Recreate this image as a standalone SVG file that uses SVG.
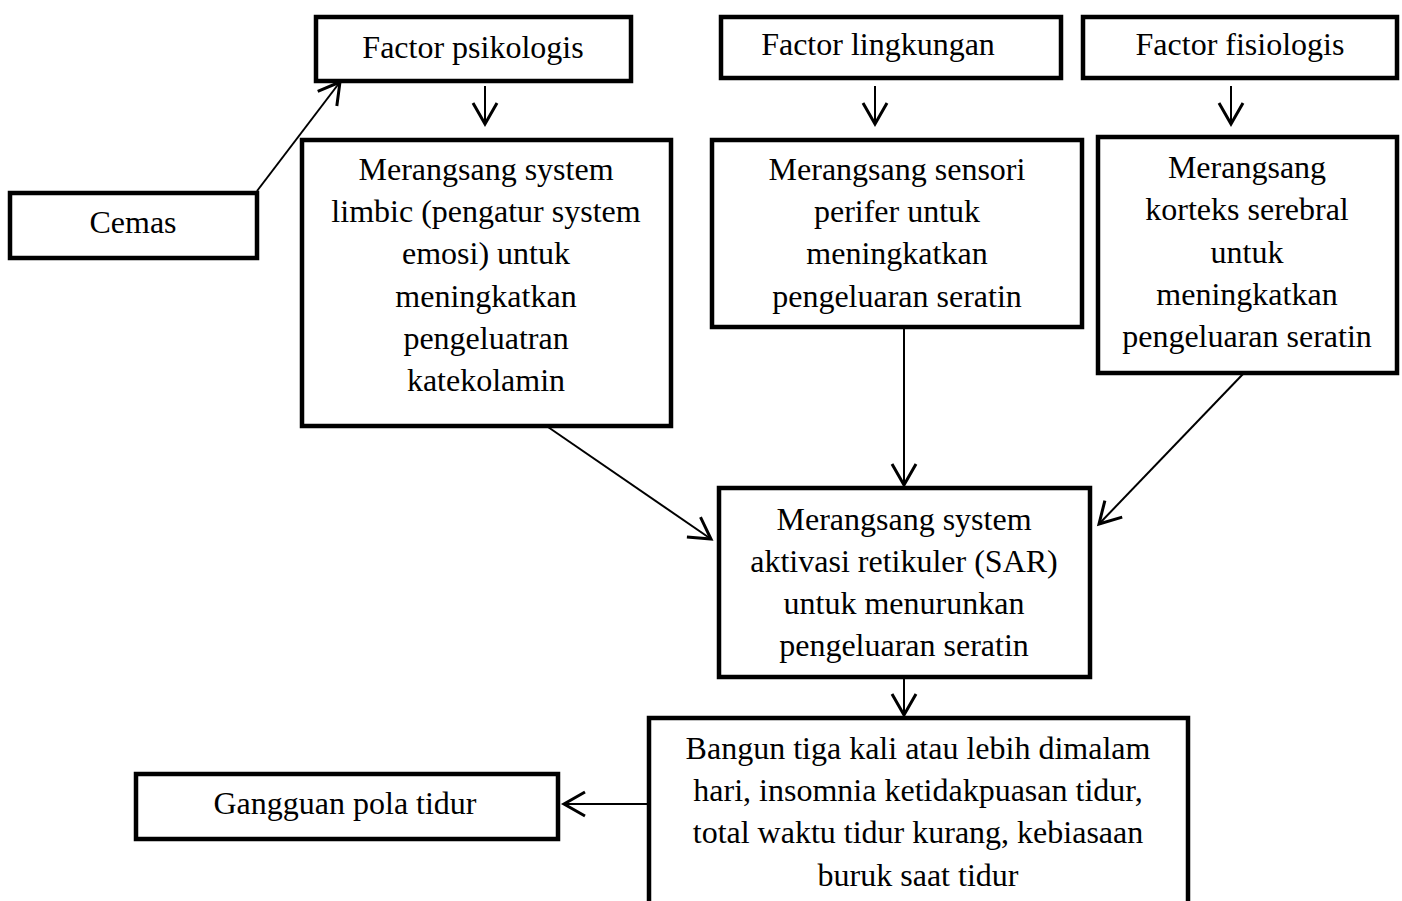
<svg xmlns="http://www.w3.org/2000/svg" width="1402" height="901" viewBox="0 0 1402 901">
<style>
.box{fill:#fff;stroke:#000;stroke-width:4.5}
.t{font-family:"Liberation Serif","Times New Roman",serif;font-size:32px;fill:#000;text-anchor:middle}
.c{stroke:#000;stroke-width:2;fill:none}
</style>
<defs>
<marker id="ah" markerUnits="userSpaceOnUse" markerWidth="30" markerHeight="30" viewBox="-16 -10 20 20" refX="0" refY="0" orient="auto">
<path d="M-14,-8 L0,0 L-14,8" fill="none" stroke="#000" stroke-width="2"/>
</marker>
</defs>
<rect width="1402" height="901" fill="#fff"/>
<g id="connectors">
<line class="c" x1="257" y1="191" x2="340" y2="82" marker-end="url(#ah)"/>
<line class="c" x1="485" y1="86" x2="485" y2="124" marker-end="url(#ah)"/>
<line class="c" x1="875" y1="86" x2="875" y2="124" marker-end="url(#ah)"/>
<line class="c" x1="1231" y1="86" x2="1231" y2="124" marker-end="url(#ah)"/>
<line class="c" x1="548" y1="427" x2="711" y2="539" marker-end="url(#ah)"/>
<line class="c" x1="904" y1="328" x2="904" y2="485" marker-end="url(#ah)"/>
<line class="c" x1="1243" y1="374" x2="1099" y2="524" marker-end="url(#ah)"/>
<line class="c" x1="904" y1="678" x2="904" y2="715" marker-end="url(#ah)"/>
<line class="c" x1="648" y1="804" x2="564" y2="804" marker-end="url(#ah)"/>
</g>
<g id="factor-psikologis">
<rect class="box" x="316" y="17" width="315" height="64"/>
<text class="t" x="473" y="58">Factor psikologis</text>
</g>
<g id="factor-lingkungan">
<rect class="box" x="721" y="17" width="340" height="61"/>
<text class="t" x="878" y="55">Factor lingkungan</text>
</g>
<g id="factor-fisiologis">
<rect class="box" x="1083" y="17" width="314" height="61"/>
<text class="t" x="1240" y="55">Factor fisiologis</text>
</g>
<g id="cemas">
<rect class="box" x="10" y="193" width="247" height="65"/>
<text class="t" x="133" y="233">Cemas</text>
</g>
<g id="limbic">
<rect class="box" x="302" y="140" width="369" height="286"/>
<text class="t" x="486" y="180">Merangsang system</text>
<text class="t" x="486" y="222">limbic (pengatur system</text>
<text class="t" x="486" y="264">emosi) untuk</text>
<text class="t" x="486" y="307">meningkatkan</text>
<text class="t" x="486" y="349">pengeluatran</text>
<text class="t" x="486" y="391">katekolamin</text>
</g>
<g id="sensori">
<rect class="box" x="712" y="140" width="370" height="187"/>
<text class="t" x="897" y="180">Merangsang sensori</text>
<text class="t" x="897" y="222">perifer untuk</text>
<text class="t" x="897" y="264">meningkatkan</text>
<text class="t" x="897" y="307">pengeluaran seratin</text>
</g>
<g id="korteks">
<rect class="box" x="1098" y="137" width="299" height="236"/>
<text class="t" x="1247" y="178">Merangsang</text>
<text class="t" x="1247" y="220">korteks serebral</text>
<text class="t" x="1247" y="263">untuk</text>
<text class="t" x="1247" y="305">meningkatkan</text>
<text class="t" x="1247" y="347">pengeluaran seratin</text>
</g>
<g id="sar">
<rect class="box" x="719" y="488" width="371" height="189"/>
<text class="t" x="904" y="530">Merangsang system</text>
<text class="t" x="904" y="572">aktivasi retikuler (SAR)</text>
<text class="t" x="904" y="614">untuk menurunkan</text>
<text class="t" x="904" y="656">pengeluaran seratin</text>
</g>
<g id="bangun">
<rect class="box" x="649" y="718" width="539" height="200"/>
<text class="t" x="918" y="759">Bangun tiga kali atau lebih dimalam</text>
<text class="t" x="918" y="801">hari, insomnia ketidakpuasan tidur,</text>
<text class="t" x="918" y="843">total waktu tidur kurang, kebiasaan</text>
<text class="t" x="918" y="886">buruk saat tidur</text>
</g>
<g id="gangguan">
<rect class="box" x="136" y="774" width="422" height="65"/>
<text class="t" x="345" y="814">Gangguan pola tidur</text>
</g>
</svg>
